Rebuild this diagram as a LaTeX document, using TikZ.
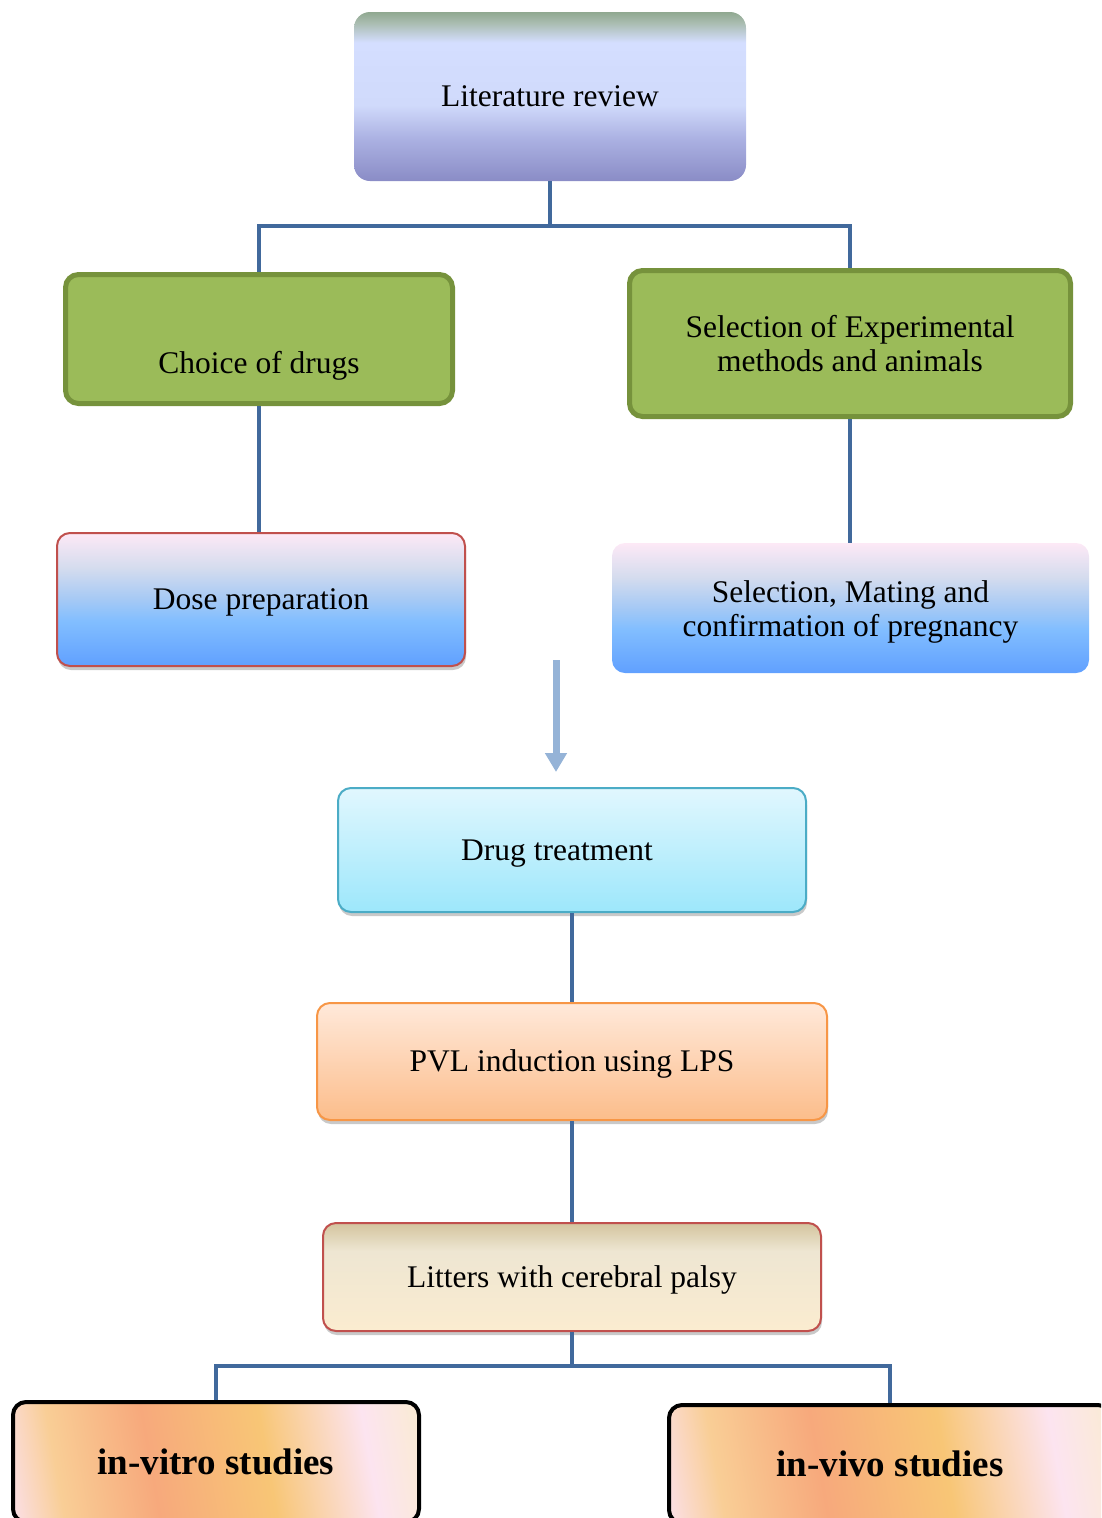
\documentclass[tikz,border=0pt]{standalone}
\usepackage{fontspec}
\setmainfont{Liberation Serif}
\usetikzlibrary{shadows,arrows.meta}
\definecolor{litA}{HTML}{8A8CC6}
\definecolor{litB}{HTML}{ABB1E2}
\definecolor{litC}{HTML}{D0DAFB}
\definecolor{litD}{HTML}{D4DEFF}
\definecolor{litE}{HTML}{A8BBAE}
\definecolor{litF}{HTML}{90A890}
\definecolor{blA}{HTML}{60A0FF}
\definecolor{blB}{HTML}{82BEFF}
\definecolor{blC}{HTML}{A5C9F5}
\definecolor{blD}{HTML}{D5DCEE}
\definecolor{blE}{HTML}{FDE9F6}
\definecolor{ltA}{HTML}{FBECD0}
\definecolor{ltB}{HTML}{EEE6D2}
\definecolor{ltC}{HTML}{D3C49E}
\definecolor{stA}{HTML}{FBDFE6}
\definecolor{stB}{HTML}{F9CE96}
\definecolor{stC}{HTML}{F7A97C}
\definecolor{stD}{HTML}{F8C676}
\definecolor{stE}{HTML}{FCE4F0}
\definecolor{stF}{HTML}{FAEBD3}
\definecolor{connc}{HTML}{41699C}
\definecolor{arrowc}{HTML}{95B3D7}
\definecolor{greenfill}{HTML}{9BBB59}
\definecolor{greendraw}{HTML}{76923C}
\definecolor{redline}{HTML}{C0504D}
\definecolor{aqualine}{HTML}{4BACC6}
\definecolor{orangeline}{HTML}{F79646}
\definecolor{drugtop}{HTML}{E1F7FE}
\definecolor{drugbot}{HTML}{9DE7FB}
\definecolor{pvltop}{HTML}{FFE9DA}
\definecolor{pvlbot}{HTML}{FCBD8B}
\pgfdeclareverticalshading{litshade}{100bp}{color(0bp)=(litA); color(25bp)=(litA); color(37.5bp)=(litB); color(47.5bp)=(litC); color(66bp)=(litD); color(72bp)=(litE); color(75bp)=(litF); color(100bp)=(litF)}
\pgfdeclareverticalshading{blueshade}{100bp}{color(0bp)=(blA); color(25bp)=(blA); color(42bp)=(blB); color(50bp)=(blC); color(62bp)=(blD); color(75bp)=(blE); color(100bp)=(blE)}
\pgfdeclareverticalshading{littershade}{100bp}{color(0bp)=(ltA); color(25bp)=(ltA); color(62bp)=(ltB); color(75bp)=(ltC); color(100bp)=(ltC)}
\pgfdeclareverticalshading{studyshade}{100bp}{color(0bp)=(stA); color(21bp)=(stA); color(28bp)=(stB); color(41bp)=(stC); color(57bp)=(stD); color(71bp)=(stE); color(79bp)=(stF); color(100bp)=(stF)}
\begin{document}
\begin{tikzpicture}[x=1pt,y=-1pt,
  basebox/.style={rectangle, inner sep=0pt, align=center, rounded corners=13pt,
    font=\fontsize{31.5}{33.5}\selectfont},
  oneline/.style={text height=26pt, text depth=6pt},
  txt/.style={inner sep=0pt, align=center, font=\fontsize{31.5}{33.5}\selectfont},
  litbox/.style={basebox, shade, shading=litshade, rounded corners=16pt},
  greenbox/.style={basebox, fill=greenfill, draw=greendraw, line width=5pt},
  dsh/.style={drop shadow={shadow xshift=1pt, shadow yshift=-4pt, opacity=0.3, fill=black!70}},
  dosebox/.style={basebox, shade, shading=blueshade, draw=redline, line width=2pt, dsh},
  matebox/.style={basebox, shade, shading=blueshade},
  drugbox/.style={basebox, top color=drugtop, bottom color=drugbot, draw=aqualine, line width=2pt, dsh},
  pvlbox/.style={basebox, top color=pvltop, bottom color=pvlbot, draw=orangeline, line width=2pt, dsh},
  litterbox/.style={basebox, shade, shading=littershade, draw=redline, line width=2pt, dsh},
  studybox/.style={basebox, shade, shading=studyshade, shading angle=-80, draw=black, line width=4pt,
    font=\fontsize{37}{40}\selectfont\bfseries},
  conn/.style={draw=connc, line width=4.5pt},
  bigarrow/.style={draw=arrowc, line width=7pt, -{Triangle[width=21pt,length=19pt]}}
]
\clip (0,0) rectangle (1101,1518);
\node[litbox, oneline, minimum width=392pt, minimum height=169pt] (lit) at (550,96.5) {Literature review};
\node[greenbox, minimum width=387pt, minimum height=129pt] (choice) at (259,339) {};
\node[txt, oneline] (choicetxt) at (259,363) {Choice of drugs};
\node[greenbox, minimum width=441pt, minimum height=146pt] (selexp) at (850,343.5) {Selection of Experimental\\methods and animals};
\node[dosebox, oneline, minimum width=408pt, minimum height=133pt] (dose) at (261,599.5) {Dose preparation};
\node[matebox, minimum width=477pt, minimum height=130pt] (mate) at (850.5,608) {};
\node[txt] (matetxt) at (850.5,612) {Selection, Mating and\\confirmation of pregnancy};
\node[drugbox, minimum width=468pt, minimum height=124pt] (drug) at (572,850) {};
\node[txt, oneline] (drugtxt) at (557,850) {Drug treatment};
\node[pvlbox, oneline, minimum width=510pt, minimum height=117pt] (pvl) at (572,1061.5) {PVL induction using LPS};
\node[litterbox, oneline, minimum width=498pt, minimum height=108pt] (litter) at (572,1277) {Litters with cerebral palsy};
\node[studybox, minimum width=406pt, minimum height=120pt] (vitro) at (216,1462) {in-vitro studies};
\node[studybox, minimum width=442pt, minimum height=118pt] (vivo) at (890,1464) {in-vivo studies};
\coordinate (j1) at (550,226);
\draw[conn] (lit.south) -- (j1) -| (choice.north);
\draw[conn] (j1) -| (selexp.north);
\draw[conn] (choice.south) -- (choice.south |- dose.north);
\draw[conn] (selexp.south) -- (selexp.south |- mate.north);
\coordinate (a1) at (556,660);
\coordinate (a2) at (556,772);
\draw[bigarrow] (a1) -- (a2);
\draw[conn] (drug.south) -- (pvl.north);
\draw[conn] (pvl.south) -- (litter.north);
\coordinate (j2) at (572,1366);
\draw[conn] (litter.south) -- (j2) -| (vitro.north);
\draw[conn] (j2) -| (vivo.north);
\end{tikzpicture}
\end{document}
